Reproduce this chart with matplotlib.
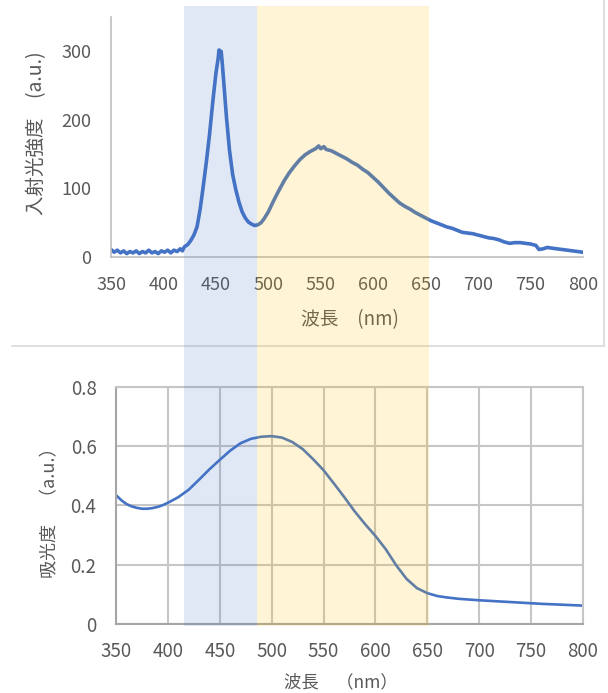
import matplotlib
matplotlib.use("Agg")
import matplotlib.pyplot as plt
from matplotlib.patches import Rectangle
from matplotlib.lines import Line2D
from matplotlib.transforms import blended_transform_factory

plt.rcParams['font.family'] = ['Noto Sans CJK JP', 'DejaVu Sans']

# ---- data: incident light spectrum (top) ----
em_nm = [350, 353, 356, 359, 362, 365, 368, 371, 374, 377, 380, 383, 386, 389, 392, 395,
         398, 401, 404, 407, 410, 413, 416, 418, 420, 423, 426, 429, 432, 435, 438, 441,
         444, 447, 450, 452, 453, 454, 455, 456, 458, 460, 463, 466, 469, 472, 475, 478,
         481, 484, 487, 490, 493, 496, 500, 505, 510, 515, 520, 525, 530, 535, 540, 545,
         548, 550, 553, 555, 560, 565, 570, 575, 580, 585, 590, 595, 600, 605, 610, 615,
         620, 625, 630, 635, 640, 645, 650, 655, 660, 665, 670, 675, 680, 685, 690, 695,
         700, 705, 710, 715, 720, 725, 730, 735, 740, 745, 750, 755, 758, 762, 766, 770,
         775, 780, 785, 790, 795, 800]
em_val = [11, 7, 10, 6, 9, 5, 8, 6, 9, 5, 8, 6, 10, 6, 8, 5,
          9, 7, 10, 6, 10, 8, 12, 9, 15, 18, 24, 32, 44, 70, 104, 140,
          180, 226, 268, 288, 302, 296, 300, 284, 245, 205, 155, 120, 98, 80, 66, 57,
          51, 48, 46, 47, 50, 56, 66, 82, 97, 111, 123, 133, 142, 149, 154, 158,
          162, 158, 161, 157, 155, 151, 147, 143, 138, 134, 128, 123, 116, 109, 101, 93,
          86, 79, 74, 70, 65, 61, 57, 53, 50, 47, 44, 42, 39, 36, 35, 34,
          32, 30, 28, 27, 25, 22, 20, 21, 21, 20, 19, 17, 11, 12, 14, 13,
          12, 11, 10, 9, 8, 7]

# ---- data: absorbance spectrum (bottom) ----
ab_nm = [350, 355, 360, 365, 370, 375, 380, 385, 390, 395, 400, 410, 420, 430, 440, 450,
         460, 470, 480, 490, 500, 510, 520, 530, 540, 550, 560, 570, 580, 590, 600, 610,
         620, 630, 640, 650, 660, 670, 680, 700, 720, 740, 760, 780, 800]
ab_val = [0.435, 0.418, 0.405, 0.397, 0.392, 0.389, 0.389, 0.391, 0.395, 0.401, 0.409,
          0.428, 0.453, 0.487, 0.522, 0.554, 0.585, 0.610, 0.625, 0.632, 0.634, 0.629,
          0.614, 0.590, 0.556, 0.519, 0.474, 0.428, 0.380, 0.337, 0.297, 0.252, 0.198,
          0.152, 0.121, 0.104, 0.094, 0.089, 0.085, 0.080, 0.076, 0.072, 0.068, 0.065, 0.062]

# ---- highlighted wavelength bands (nm) ----
blue_band = (420, 489)
yellow_band = (489, 653)

line_color = '#4472C4'
txt_color = '#595959'
grid_color = '#c6c6c6'

fig = plt.figure(figsize=(6.08, 6.93), dpi=100)

# ---------- top panel ----------
ax1 = fig.add_axes([0.1826, 0.6291, 0.7763, 0.3463])
ax1.plot(em_nm, em_val, color=line_color, lw=2.6, solid_joinstyle='round')
ax1.set_xlim(350, 800)
ax1.set_ylim(0, 350)
ax1.set_xticks(range(350, 801, 50))
ax1.set_yticks([0, 100, 200, 300])
for s in ['top', 'right']:
    ax1.spines[s].set_visible(False)
for s in ['left', 'bottom']:
    ax1.spines[s].set_color('#bfbfbf')
    ax1.spines[s].set_linewidth(1.2)
ax1.tick_params(length=0, labelsize=13, labelcolor=txt_color)
ax1.tick_params(axis='x', pad=14)
ax1.tick_params(axis='y', pad=14)
ax1.patch.set_alpha(0)

# ---------- bottom panel ----------
ax2 = fig.add_axes([0.1908, 0.0996, 0.7681, 0.342])
ax2.plot(ab_nm, ab_val, color=line_color, lw=1.9)
ax2.set_xlim(350, 800)
ax2.set_ylim(0, 0.8)
ax2.set_xticks(range(350, 801, 50))
ax2.set_yticks([0, 0.2, 0.4, 0.6, 0.8])
ax2.set_yticklabels(['0', '0.2', '0.4', '0.6', '0.8'])
ax2.grid(True, color=grid_color, lw=1.5)
ax2.set_axisbelow(True)
for s in ax2.spines.values():
    s.set_color(grid_color)
    s.set_linewidth(1.5)
ax2.spines['left'].set_color('#a6a6a6')
ax2.spines['bottom'].set_color('#a6a6a6')
ax2.tick_params(length=0, labelsize=13.5, labelcolor=txt_color)
ax2.tick_params(axis='x', pad=12)
ax2.tick_params(axis='y', pad=14)

# ---------- labels ----------
fig.text(0.576, 1 - 320 / 693, '波長　(nm)', ha='center', va='center', fontsize=13.5, color=txt_color)
fig.text(0.061, 1 - 133 / 693, '入射光強度　(a.u.)', ha='center', va='center', rotation=90,
         fontsize=14, color=txt_color)
fig.text(0.56, 1 - 682 / 693, '波長　（nm）', ha='center', va='center', fontsize=12.5, color=txt_color)
fig.text(0.082, 1 - 508 / 693, '吸光度　（a.u.）', ha='center', va='center', rotation=90,
         fontsize=13, color=txt_color)

# ---------- top chart frame ----------
fig.add_artist(Line2D([12 / 608, 604 / 608], [1 - 346 / 693, 1 - 346 / 693],
                      transform=fig.transFigure, color='#d9d9d9', lw=1.2))
fig.add_artist(Line2D([604 / 608, 604 / 608], [1.0, 1 - 346 / 693],
                      transform=fig.transFigure, color='#d9d9d9', lw=1.2))

# ---------- overlay bands ----------
trans = blended_transform_factory(ax1.transData, fig.transFigure)
y0, y1 = 1 - 626 / 693, 1 - 6 / 693
fig.add_artist(Rectangle((blue_band[0], y0), blue_band[1] - blue_band[0], y1 - y0,
                         transform=trans, facecolor='#4472C4', alpha=0.16, lw=0, zorder=5))
fig.add_artist(Rectangle((yellow_band[0], y0), yellow_band[1] - yellow_band[0], y1 - y0,
                         transform=trans, facecolor='#FFC000', alpha=0.16, lw=0, zorder=5))

fig.savefig('out.png', dpi=100)
